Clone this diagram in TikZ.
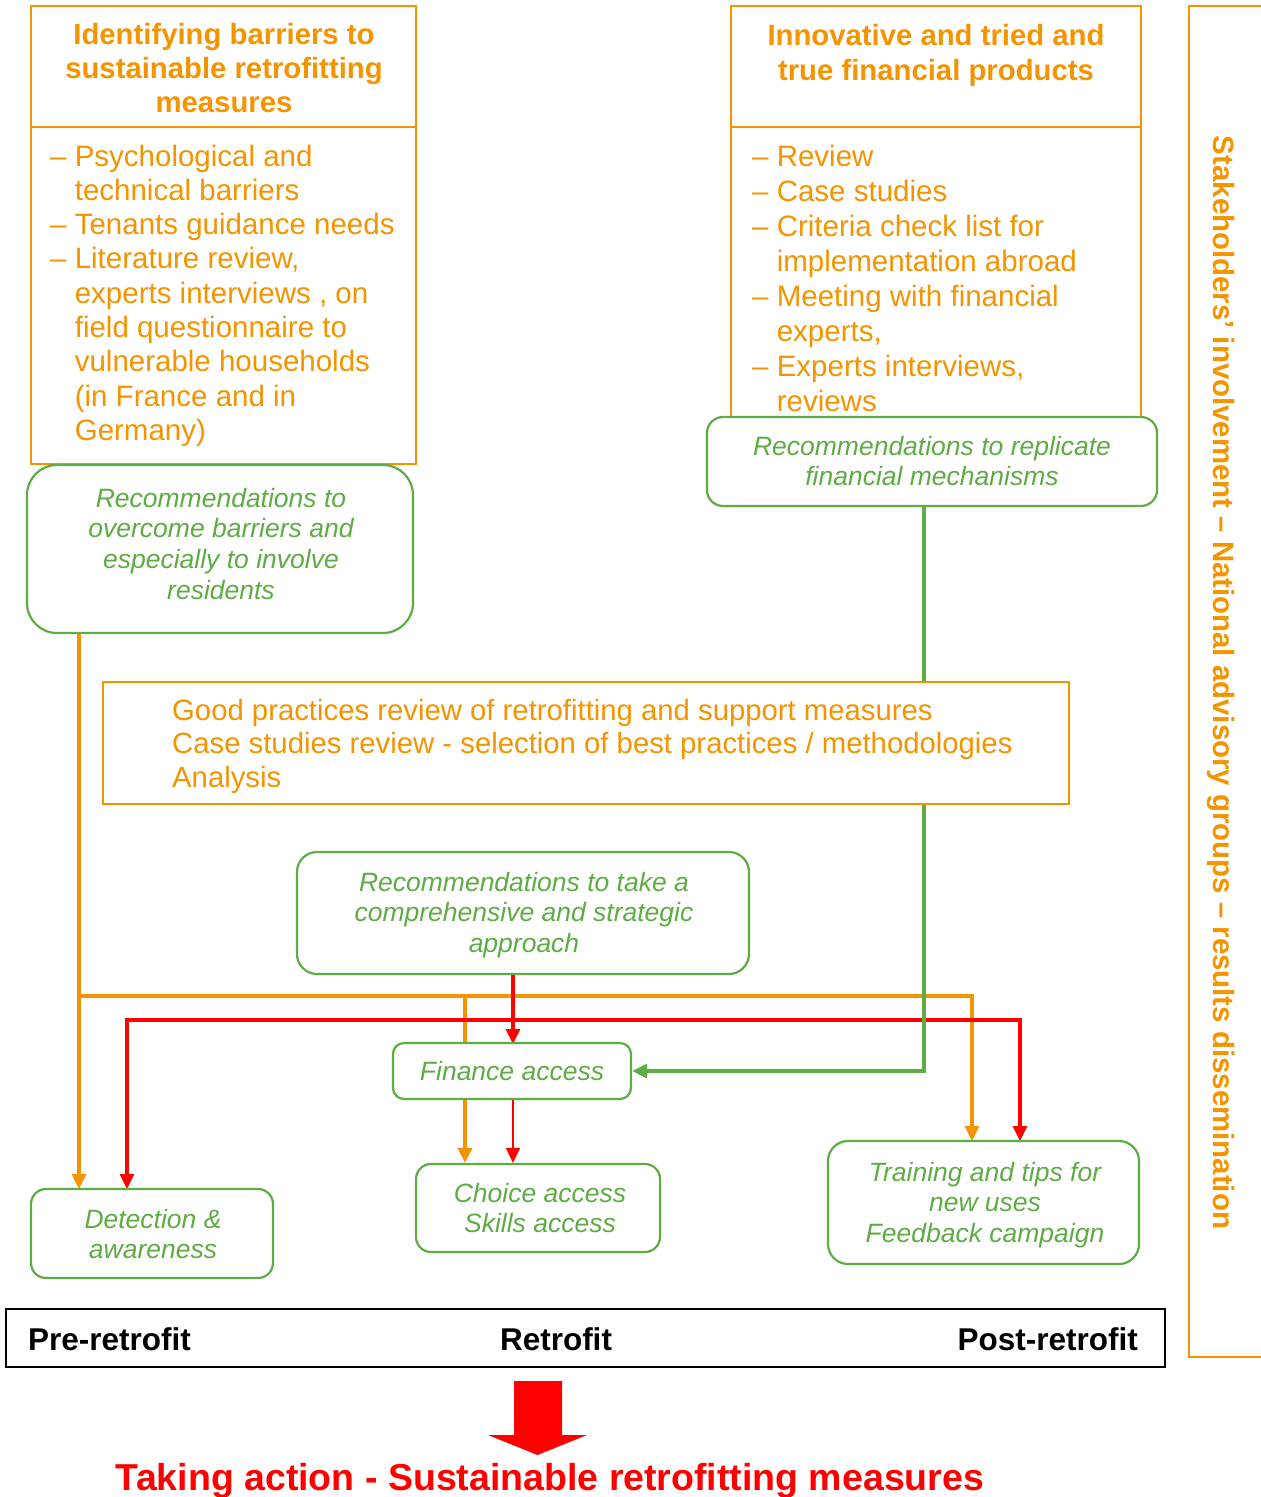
\documentclass[tikz,border=0pt]{standalone}
\usepackage{fontspec}
\setmainfont{Liberation Sans}
\usetikzlibrary{arrows.meta}
\definecolor{orn}{RGB}{243,148,0}
\definecolor{grn}{RGB}{94,172,68}
\definecolor{rdd}{RGB}{255,0,0}
\begin{document}
\begin{tikzpicture}[x=1pt,y=-1pt,
  >={Triangle[width=14pt,length=15pt]},
  obox/.style={draw=orn, line width=2.2pt, fill=white, inner sep=0pt},
  gbox/.style={draw=grn, line width=2.2pt, fill=white, inner sep=0pt, rounded corners=#1},
  otitle/.style={text=orn, font=\fontsize{29.3}{34}\selectfont\bfseries, align=center, inner sep=0pt, anchor=base},
  olist/.style={text=orn, font=\fontsize{29.5}{34.3}\selectfont, align=left, inner sep=0pt, anchor=base west},
  gtext/.style={text=grn, font=\fontsize{26.5}{30.8}\selectfont\itshape, align=center, inner sep=0pt, anchor=base},
  blab/.style={text=black, font=\fontsize{31.5}{36}\selectfont\bfseries, inner sep=0pt},
  ol/.style={draw=orn, line width=3.2pt},
  rl/.style={draw=rdd, line width=3.2pt},
  gl/.style={draw=grn, line width=3.2pt}]
\useasboundingbox (0,0) rectangle (1261,1497);

% coordinates for connector junctions
\coordinate (jo1) at (79,996);
\coordinate (jo2) at (972,996);
\coordinate (jo3) at (465,996);
\coordinate (jr1) at (127,1020);
\coordinate (jr2) at (1020,1020);
\coordinate (jrx) at (513,1020);
\coordinate (jg) at (924,1071);

% boxes
\node[obox, minimum width=385pt, minimum height=121pt] (tlt) at (223.5,66.5) {};
\node[obox, minimum width=385pt, minimum height=337pt] (tlb) at (223.5,295.5) {};
\node[obox, minimum width=410pt, minimum height=121pt] (trt) at (936,66.5) {};
\node[obox, minimum width=410pt, minimum height=303pt] (trb) at (936,278.5) {};
\node[gbox=16pt, minimum width=450pt, minimum height=89pt] (repl) at (932,461.5) {};
\node[gbox=30pt, minimum width=386pt, minimum height=168pt] (recL) at (220,549) {};
\node[obox, minimum width=966pt, minimum height=122pt] (good) at (586,743) {};
\node[gbox=20pt, minimum width=452pt, minimum height=122pt] (strat) at (523,913) {};

% connectors
\draw[ol,->] (recL.south -| jo1) -- (jo1) -- ++(0,193);
\draw[ol,->] (jo1) -- (jo2) -- (jo2 |- 1141,1141);
\draw[ol] (jo3) -- (jo3 |- 1044,1044);
\draw[rl,<->] (jr1 |- 1189,1189) -- (jr1) -- (jr2) -- (jr2 |- 1141,1141);
\draw[rl,->] (strat.south -| jrx) -- (jrx |- 1044,1044);
\draw[gl] (repl.south -| jg) -- (good.north -| jg);

\node[gbox=11pt, minimum width=238pt, minimum height=56pt] (fin) at (512,1071) {};
\node[gbox=15pt, minimum width=244pt, minimum height=88pt] (choice) at (538,1208) {};
\node[gbox=15pt, minimum width=242pt, minimum height=89pt] (detect) at (152,1233.5) {};
\node[gbox=20pt, minimum width=311pt, minimum height=123pt] (train) at (983.5,1202.5) {};
\node[draw=black, line width=2pt, inner sep=0pt, minimum width=1159pt, minimum height=58pt] (phase) at (585.5,1338) {};

\draw[ol,->] (fin.south -| jo3) -- (choice.north -| jo3);
\draw[draw=rdd, line width=1.6pt,->] (fin.south -| jrx) -- (choice.north -| jrx);
\draw[gl,->] (good.south -| jg) -- (jg) -- (fin.east);

% right frame
\draw[draw=orn, line width=2.2pt] (1263,6) -- (1189,6) -- (1189,1357) -- (1263,1357);
\node[rotate=-90, text=orn, font=\fontsize{29.4}{34}\selectfont\bfseries, inner sep=0pt] (stk) at (1221,682.5) {Stakeholders’ involvement – National advisory groups – results dissemination};

% texts (base anchor = baseline of last line)
\node[otitle] (tltx) at (224,112) {Identifying barriers to\\sustainable retrofitting\\measures};
\node[olist] (tlbx) at (50,440.4) {– Psychological and\\\hphantom{– }technical barriers\\– Tenants guidance needs\\– Literature review,\\\hphantom{– }experts interviews , on\\\hphantom{– }field questionnaire to\\\hphantom{– }vulnerable households\\\hphantom{– }(in France and in\\\hphantom{– }Germany)};
\node[otitle, font=\fontsize{29.3}{35}\selectfont\bfseries] (trtx) at (936,80) {Innovative and tried and\\true financial products};
\node[olist, font=\fontsize{29.5}{35}\selectfont] (trbx) at (752,411) {– Review\\– Case studies\\– Criteria check list for\\\hphantom{– }implementation abroad\\– Meeting with financial\\\hphantom{– }experts,\\– Experts interviews,\\\hphantom{– }reviews};
\node[gtext] (replx) at (932,485.8) {Recommendations to replicate\\financial mechanisms};
\node[gtext] (recLx) at (221,599.4) {Recommendations to\\overcome barriers and\\especially to involve\\residents};
\node[olist, font=\fontsize{29.3}{33.5}\selectfont] (goodx) at (172,787) {Good practices review of retrofitting and support measures\\Case studies review - selection of best practices / methodologies\\Analysis};
\node[gtext] (stratx) at (524,952.6) {Recommendations to take a\\comprehensive and strategic\\approach};
\node[gtext] (finx) at (512,1080) {Finance access};
\node[gtext] (choicex) at (540,1232.8) {Choice access\\Skills access};
\node[gtext] (detectx) at (153,1258.8) {Detection \&\\awareness};
\node[gtext] (trainx) at (985,1242.6) {Training and tips for\\new uses\\Feedback campaign};

\node[blab, anchor=base west] (pre) at (28,1350) {Pre-retrofit};
\node[blab, anchor=base] (ret) at (556,1350) {Retrofit};
\node[blab, anchor=base east] (post) at (1138,1350) {Post-retrofit};

% big red arrow
\fill[rdd] (514,1381) -- (562,1381) -- (562,1435) -- (587,1435) -- (537.5,1455) -- (488,1435) -- (514,1435) -- cycle;
\node[text=rdd, font=\fontsize{37.5}{42}\selectfont\bfseries, inner sep=0pt, anchor=base] (act) at (550,1490) {Taking action - Sustainable retrofitting measures};
\end{tikzpicture}
\end{document}
